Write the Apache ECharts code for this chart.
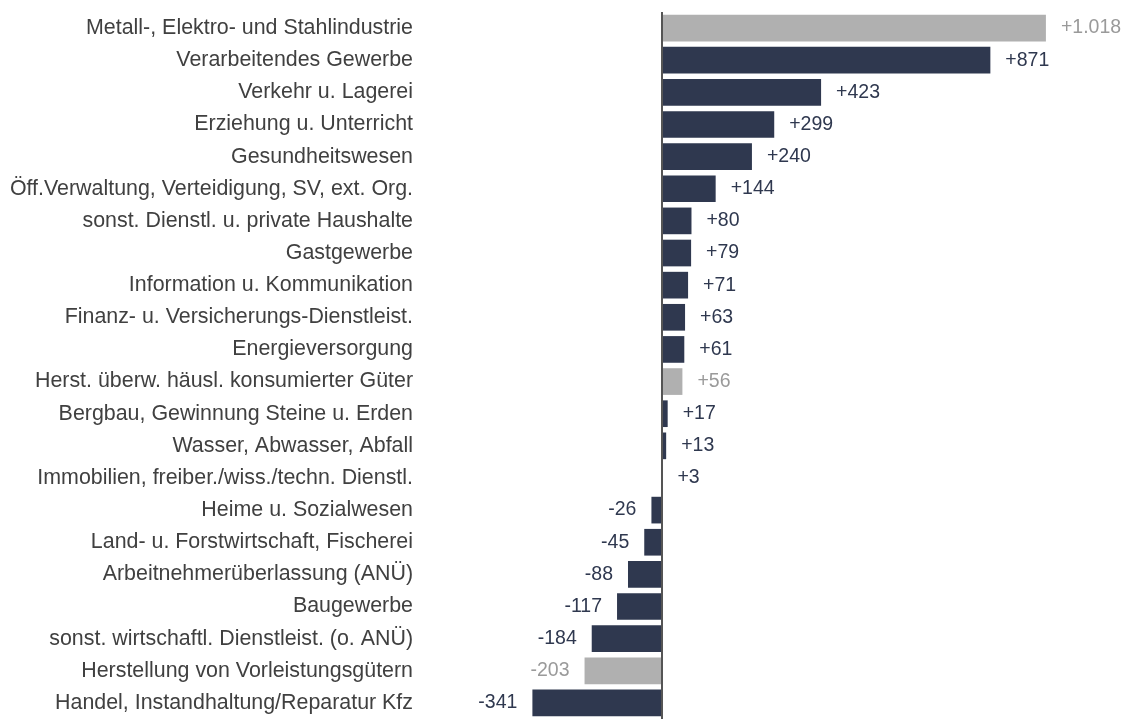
<!DOCTYPE html>
<html><head><meta charset="utf-8">
<script src="https://cdn.jsdelivr.net/npm/echarts@6/dist/echarts.min.js"></script>
<style>html,body{margin:0;padding:0;background:#fff}#c{width:1146px;height:719px}</style>
</head><body><div id="c"></div>
<script>
const categories = [
  "Metall-, Elektro- und Stahlindustrie",
  "Verarbeitendes Gewerbe",
  "Verkehr u. Lagerei",
  "Erziehung u. Unterricht",
  "Gesundheitswesen",
  "Öff.Verwaltung, Verteidigung, SV, ext. Org.",
  "sonst. Dienstl. u. private Haushalte",
  "Gastgewerbe",
  "Information u. Kommunikation",
  "Finanz- u. Versicherungs-Dienstleist.",
  "Energieversorgung",
  "Herst. überw. häusl. konsumierter Güter",
  "Bergbau, Gewinnung Steine u. Erden",
  "Wasser, Abwasser, Abfall",
  "Immobilien, freiber./wiss./techn. Dienstl.",
  "Heime u. Sozialwesen",
  "Land- u. Forstwirtschaft, Fischerei",
  "Arbeitnehmerüberlassung (ANÜ)",
  "Baugewerbe",
  "sonst. wirtschaftl. Dienstleist. (o. ANÜ)",
  "Herstellung von Vorleistungsgütern",
  "Handel, Instandhaltung/Reparatur Kfz"
];
const values = [1018, 871, 423, 299, 240, 144, 80, 79, 71, 63, 61, 56, 17, 13, 3, -26, -45, -88, -117, -184, -203, -341];
const subGroups = [
  "Metall-, Elektro- und Stahlindustrie",
  "Herst. überw. häusl. konsumierter Güter",
  "Herstellung von Vorleistungsgütern"
];

const NAVY = '#2f384f', GRAY = '#b0b0b0';
function fmt(v) {
  const s = String(Math.abs(v)).replace(/\B(?=(\d{3})+(?!\d))/g, '.');
  return (v > 0 ? '+' : '-') + s;
}
const seriesData = values.map((v, i) => {
  const sub = subGroups.includes(categories[i]);
  return {
    value: v,
    itemStyle: { color: sub ? GRAY : NAVY },
    label: { position: v >= 0 ? 'right' : 'left', color: sub ? '#9a9a9a' : '#2f384f' }
  };
});

const chart = echarts.init(document.getElementById('c'), null, { renderer: 'canvas' });
chart.setOption({
  animation: false,
  grid: { left: 529, width: 529, top: 12, height: 710, containLabel: false },
  xAxis: {
    type: 'value', min: -350, max: 1050, show: false,
    splitLine: { show: false }
  },
  yAxis: {
    type: 'category', data: categories, inverse: true,
    axisLine: { show: false, onZero: false },
    axisTick: { show: false },
    axisLabel: { margin: 116, fontSize: 21.4, color: '#404040', fontFamily: 'Liberation Sans, Arial, sans-serif' }
  },
  series: [{
    type: 'bar', data: seriesData, barCategoryGap: '17%',
    label: { show: true, distance: 15, fontSize: 19.5, fontFamily: 'Liberation Sans, Arial, sans-serif',
      formatter: p => fmt(p.value) },
    markLine: {
      silent: true, symbol: 'none', label: { show: false },
      lineStyle: { color: '#555555', width: 2, type: 'solid' },
      data: [{ xAxis: 0 }]
    }
  }]
});
</script></body></html>
